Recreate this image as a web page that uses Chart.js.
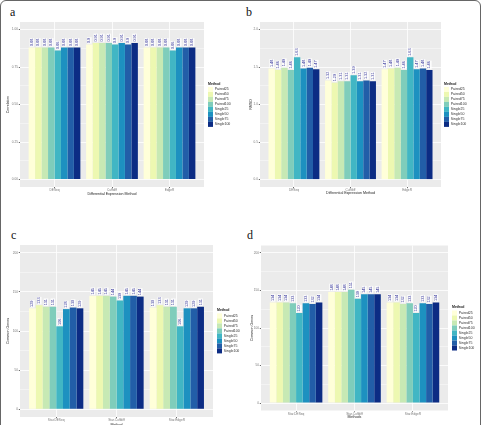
<!DOCTYPE html>
<html>
<head>
<meta charset="utf-8">
<script src="https://cdn.jsdelivr.net/npm/chart.js@4.4.0/dist/chart.umd.min.js"></script>
<style>
html, body { margin: 0; padding: 0; background: #fff; width: 483px; height: 425px; overflow: hidden; position: relative; }
canvas { position: absolute; }
.letter { position: absolute; font-family: "Liberation Serif", "DejaVu Serif", serif; font-size: 12px; line-height: 12px; color: #111; }
#frame { position: absolute; left: 0; top: 0; width: 479px; height: 440px; border: 1px solid #666; border-radius: 6px; }
</style>
</head>
<body>
<div id="frame"></div>
<div class="letter" style="left:10px;top:6px">a</div>
<div class="letter" style="left:246px;top:6px">b</div>
<div class="letter" style="left:11px;top:229px">c</div>
<div class="letter" style="left:247px;top:229px">d</div>
<canvas id="chartA" width="240" height="210" style="left:0;top:0"></canvas>
<canvas id="chartB" width="240" height="210" style="left:240px;top:0"></canvas>
<canvas id="chartC" width="245" height="220" style="left:0;top:210px"></canvas>
<canvas id="chartD" width="243" height="215" style="left:240px;top:210px"></canvas>
<script>
"use strict";

// series (legend) and colours
var methods = ["Paired25", "Paired50", "Paired75", "Paired100", "Single25", "Single50", "Single75", "Single100"];
var colors = ["#ffffd9", "#edf8b1", "#c7e9b4", "#7fcdbb", "#41b6c4", "#1d91c0", "#225ea8", "#0c2c84"];

// categories
var deMethods = ["DESeq", "Cuffdiff", "EdgeR"];
var starMethods = ["Star.DESeq", "Star.Cuffdiff", "Star.EdgeR"];

// a: correlation, one array per category (values in method order)
var corrDESeq = [0.88, 0.88, 0.88, 0.88, 0.86, 0.88, 0.88, 0.88];
var corrCuffdiff = [0.9, 0.91, 0.91, 0.91, 0.9, 0.91, 0.9, 0.91];
var corrEdgeR = [0.88, 0.88, 0.88, 0.88, 0.86, 0.88, 0.88, 0.88];

// b: RMSD
var rmsdDESeq = [1.48, 1.46, 1.49, 1.46, 1.63, 1.48, 1.49, 1.47];
var rmsdCuffdiff = [1.32, 1.29, 1.31, 1.31, 1.39, 1.31, 1.32, 1.31];
var rmsdEdgeR = [1.47, 1.48, 1.49, 1.46, 1.63, 1.47, 1.48, 1.46];

// c: common genes
var commonDESeqC = [129, 133, 131, 131, 106, 128, 130, 129];
var commonCuffdiffC = [145, 145, 145, 144, 139, 145, 145, 144];
var commonEdgeRC = [130, 133, 131, 131, 106, 129, 129, 131];

// d: common genes
var commonDESeqD = [134, 134, 134, 133, 120, 133, 132, 134];
var commonCuffdiffD = [148, 148, 148, 151, 139, 145, 145, 145];
var commonEdgeRD = [134, 134, 132, 133, 120, 133, 132, 134];

// y tick values and labels
var corrTicks = [0, 0.25, 0.5, 0.75, 1];
var corrTickLabels = ["0.00", "0.25", "0.50", "0.75", "1.00"];
var rmsdTicks = [0, 0.5, 1, 1.5, 2];
var rmsdTickLabels = ["0.0", "0.5", "1.0", "1.5", "2.0"];
var geneTicks = [0, 50, 100, 150, 200];
var geneTickLabels = ["0", "50", "100", "150", "200"];

var FONT = '"Liberation Sans", Arial, sans-serif';

// grey ggplot panel behind the plot
var panelBg = {
    id: "panelBg",
    beforeDraw: function (chart) {
        var a = chart.chartArea, ctx = chart.ctx;
        ctx.save();
        ctx.fillStyle = "#ebebeb";
        ctx.fillRect(a.left, a.top, a.right - a.left, a.bottom - a.top);
        ctx.restore();
    }
};

// rotated value labels above the bars
var valueLabels = {
    id: "valueLabels",
    afterDatasetsDraw: function (chart) {
        var ctx = chart.ctx;
        ctx.save();
        ctx.font = "3.8px " + FONT;
        ctx.textBaseline = "middle";
        ctx.textAlign = "left";
        chart.data.datasets.forEach(function (ds, i) {
            chart.getDatasetMeta(i).data.forEach(function (bar, j) {
                var txt = String(ds.data[j].y),
                    w = ctx.measureText(txt).width;
                ctx.save();
                ctx.translate(bar.x, bar.y - 1.4);
                ctx.rotate(-Math.PI / 2);
                ctx.fillStyle = "rgba(255,255,255,0.85)";
                ctx.fillRect(-0.6, -2.3, w + 1.2, 4.6);
                ctx.fillStyle = "#34349a";
                ctx.fillText(txt, 0, 0);
                ctx.restore();
            });
        });
        ctx.restore();
    }
};

// fixed legend width + gap from the panel
var legendPlace = {
    id: "legendPlace",
    afterInit: function (chart) {
        var lg = chart.legend, fit = lg.fit, o = chart.options.plugins.legendPlace;
        lg.fit = function () {
            fit.call(this);
            this.width = o.width;
        };
    },
    afterLayout: function (chart) {
        var o = chart.options.plugins.legendPlace;
        chart.legend.left += o.shift;
    }
};

function makeChart(id, cats, rows, p) {
    var majors = p.ticks, step = majors[1] - majors[0], allTicks = [];
    majors.forEach(function (v, k) {
        allTicks.push(v);
        if (k < majors.length - 1) {
            allTicks.push(v + step / 2);
        }
    });
    var isMajor = function (v) {
        return majors.indexOf(v) >= 0;
    };
    var range = majors[majors.length - 1] - majors[0];

    var datasets = methods.map(function (m, i) {
        return {
            label: m,
            data: cats.map(function (c, j) {
                return {x: j + 1, y: rows[j][i]};
            }),
            backgroundColor: colors[i],
            borderWidth: 0,
            categoryPercentage: 0.9,
            barPercentage: 1
        };
    });

    return new Chart(document.getElementById(id).getContext("2d"), {
        type: "bar",
        data: {datasets: datasets},
        plugins: [panelBg, valueLabels, legendPlace],
        options: {
            responsive: false,
            animation: false,
            devicePixelRatio: 1,
            layout: {padding: p.padding},
            scales: {
                x: {
                    type: "linear",
                    offset: false,
                    min: 0.4,
                    max: cats.length + 0.6,
                    afterBuildTicks: function (s) {
                        s.ticks = cats.map(function (c, j) {
                            return {value: j + 1};
                        });
                    },
                    afterFit: function (s) {
                        s.height = p.xH;
                    },
                    border: {display: false},
                    grid: {offset: false, color: "#ffffff", lineWidth: 0.8, tickLength: 1.2, tickColor: "#444"},
                    ticks: {
                        padding: 0.4,
                        maxRotation: 0,
                        autoSkip: false,
                        color: "#7a7a7a",
                        font: {family: FONT, size: 3.2},
                        callback: function (v) {
                            return cats[v - 1];
                        }
                    },
                    title: {display: true, text: p.xTitle, color: "#222", font: {family: FONT, size: 3.6}, padding: 0}
                },
                y: {
                    min: majors[0] - range * 0.05,
                    max: majors[majors.length - 1] + range * 0.05,
                    afterBuildTicks: function (s) {
                        s.ticks = allTicks.map(function (v) {
                            return {value: v};
                        });
                    },
                    afterFit: function (s) {
                        s.width = p.yW;
                    },
                    border: {display: false},
                    grid: {
                        color: "#ffffff",
                        lineWidth: function (c) {
                            return isMajor(c.tick.value) ? 0.8 : 0.4;
                        },
                        tickLength: 1.2,
                        tickColor: function (c) {
                            return isMajor(c.tick.value) ? "#444" : "rgba(0,0,0,0)";
                        }
                    },
                    ticks: {
                        padding: 0.8,
                        autoSkip: false,
                        color: "#7a7a7a",
                        font: {family: FONT, size: 3.2},
                        callback: function (v) {
                            var k = majors.indexOf(v);
                            return k >= 0 ? p.tickLabels[k] : "";
                        }
                    },
                    title: {display: true, text: p.yTitle, color: "#222", font: {family: FONT, size: 3.6}, padding: {top: p.yTitlePad, bottom: 0}}
                }
            },
            plugins: {
                legendPlace: {width: p.legW, shift: p.legShift},
                tooltip: {enabled: false},
                legend: {
                    position: "right",
                    align: "center",
                    fullSize: false,
                    title: {display: true, text: "Method", position: "start", color: "#222", font: {family: FONT, size: 3.5, weight: "bold"}, padding: {top: 0, bottom: 0.6}},
                    labels: {boxWidth: 5, boxHeight: 5, padding: 0, color: "#333", font: {family: FONT, size: 3.5}}
                }
            }
        }
    });
}

makeChart("chartA", deMethods, [corrDESeq, corrCuffdiff, corrEdgeR], {
    ticks: corrTicks, tickLabels: corrTickLabels,
    xTitle: "Differential Expression Method", yTitle: "Correlation",
    padding: {top: 22, left: 0, right: 0, bottom: 14.3},
    xH: 8.7, yW: 20, yTitlePad: 5.8, legW: 36, legShift: 4
});

makeChart("chartB", deMethods, [rmsdDESeq, rmsdCuffdiff, rmsdEdgeR], {
    ticks: rmsdTicks, tickLabels: rmsdTickLabels,
    xTitle: "Differential Expression Method", yTitle: "RMSD",
    padding: {top: 22, left: 0, right: 0, bottom: 14.6},
    xH: 8.4, yW: 20, yTitlePad: 8.4, legW: 39, legShift: 3
});

makeChart("chartC", starMethods, [commonDESeqC, commonCuffdiffC, commonEdgeRC], {
    ticks: geneTicks, tickLabels: geneTickLabels,
    xTitle: "Method", yTitle: "Common Genes",
    padding: {top: 35, left: 0, right: 0, bottom: 3.2},
    xH: 9.8, yW: 20, yTitlePad: 6.1, legW: 32, legShift: 4
});

makeChart("chartD", starMethods, [commonDESeqD, commonCuffdiffD, commonEdgeRD], {
    ticks: geneTicks, tickLabels: geneTickLabels,
    xTitle: "Methods", yTitle: "Common Genes",
    padding: {top: 35.5, left: 0, right: 0, bottom: 6.1},
    xH: 8.4, yW: 21, yTitlePad: 9.8, legW: 35, legShift: 4
});
</script>
</body>
</html>
